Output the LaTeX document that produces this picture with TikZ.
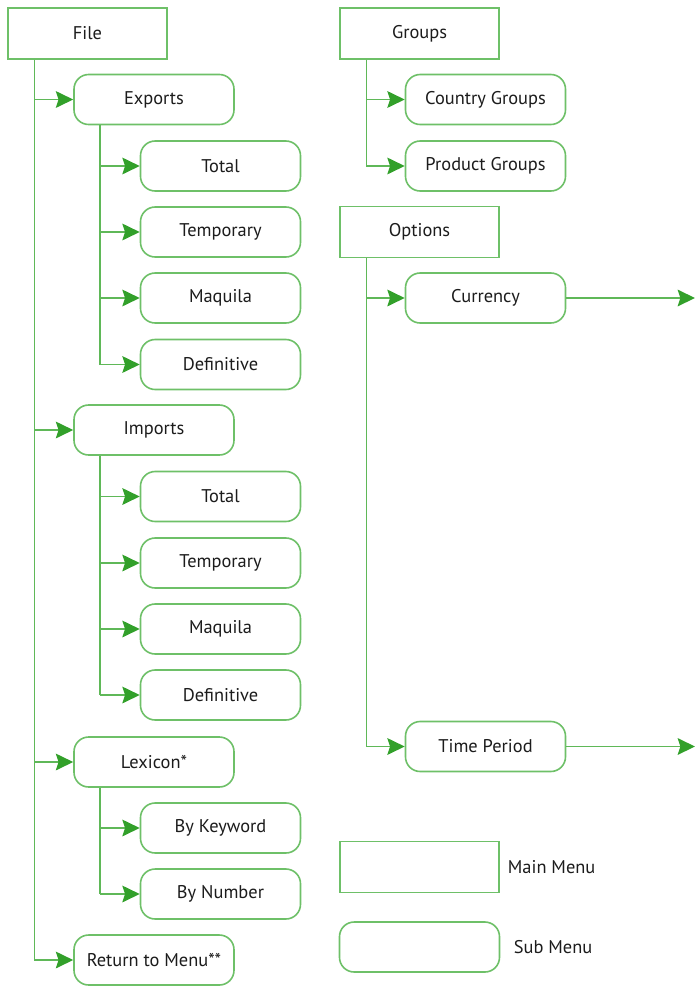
\documentclass[tikz,border=0pt]{standalone}
\usepackage{fontspec}
\setmainfont{PT Sans}
\usetikzlibrary{arrows.meta,positioning}
\definecolor{menuline}{RGB}{50,160,42}
\definecolor{menubox}{RGB}{110,192,104}
\definecolor{menuink}{RGB}{28,28,28}

\begin{document}
\begin{tikzpicture}[
  x=0.75pt, y=-0.75pt,
  font=\fontsize{13.8}{15}\selectfont,
  mainbox/.style={draw=menubox, line width=1.2pt, fill=white, text=menuink,
                  minimum width=119pt, minimum height=38pt, inner sep=2pt},
  subbox/.style={mainbox, rounded corners=11pt, minimum width=120pt, minimum height=37.5pt},
  link/.style={draw=menubox!75!menuline, line width=1.2pt},
  arr/.style={link, -{Stealth[length=13pt, width=12.5pt, inset=2pt, color=menuline]}}
]
\useasboundingbox (0,0) rectangle (696,986);
% ---- left column: File ----
\node[mainbox] (file) at (87.5,33.5) {File};
\node[subbox] (exports) at (154,99.5) {Exports};
\node[subbox] (extotal) at (220.5,166) {Total};
\node[subbox] (extemp) at (220.5,232) {Temporary};
\node[subbox] (exmaq) at (220.5,298) {Maquila};
\node[subbox] (exdef) at (220.5,364.5) {Definitive};
\node[subbox] (imports) at (154,430) {Imports};
\node[subbox] (imtotal) at (220.5,496.5) {Total};
\node[subbox] (imtemp) at (220.5,563) {Temporary};
\node[subbox] (immaq) at (220.5,629) {Maquila};
\node[subbox] (imdef) at (220.5,695) {Definitive};
\node[subbox] (lexicon) at (154,762) {Lexicon*};
\node[subbox] (bykey) at (220.5,828) {By Keyword};
\node[subbox] (bynum) at (220.5,894) {By Number};
\node[subbox] (back) at (154,960) {Return to Menu**};
% trunks and branches
\coordinate (ftrunk) at ([xshift=20.25pt]file.south west);
\draw[link] (ftrunk) -- (ftrunk |- back);
\foreach \n in {exports,imports,lexicon,back}
  \draw[arr] (ftrunk |- \n) -- (\n);
\coordinate (etrunk) at ([xshift=20.25pt]exports.south west);
\draw[link] (etrunk) -- (etrunk |- exdef);
\foreach \n in {extotal,extemp,exmaq,exdef}
  \draw[arr] (etrunk |- \n) -- (\n);
\coordinate (itrunk) at ([xshift=20.25pt]imports.south west);
\draw[link] (itrunk) -- (itrunk |- imdef);
\foreach \n in {imtotal,imtemp,immaq,imdef}
  \draw[arr] (itrunk |- \n) -- (\n);
\coordinate (ltrunk) at ([xshift=20.25pt]lexicon.south west);
\draw[link] (ltrunk) -- (ltrunk |- bynum);
\foreach \n in {bykey,bynum}
  \draw[arr] (ltrunk |- \n) -- (\n);
% ---- right column: Groups, Options ----
\node[mainbox] (groups) at (419.5,33.5) {Groups};
\node[subbox] (country) at (485.5,99.5) {Country Groups};
\node[subbox] (product) at (485.5,166) {Product Groups};
\node[mainbox] (options) at (419.5,232) {Options};
\node[subbox] (currency) at (485.5,298) {Currency};
\node[subbox] (period) at (485.5,746.5) {Time Period};
\coordinate (gtrunk) at ([xshift=20.25pt]groups.south west);
\draw[link] (gtrunk) -- (gtrunk |- product);
\foreach \n in {country,product}
  \draw[arr] (gtrunk |- \n) -- (\n);
\coordinate (otrunk) at ([xshift=20.25pt]options.south west);
\draw[link] (otrunk) -- (otrunk |- period);
\foreach \n in {currency,period}
  \draw[arr] (otrunk |- \n) -- (\n);
\coordinate (rightedge) at (695,0);
\draw[arr] (currency) -- (currency -| rightedge);
\draw[arr] (period) -- (period -| rightedge);
% ---- legend ----
\node[mainbox] (mainleg) at (419.5,867) {};
\node[subbox] (subleg) at (419.5,947) {};
\node[right=6pt of mainleg, inner sep=0pt, text=menuink] (mainlbl) {Main Menu};
\node[right=10pt of subleg, inner sep=0pt, text=menuink] (sublbl) {Sub Menu};
\end{tikzpicture}
\end{document}
